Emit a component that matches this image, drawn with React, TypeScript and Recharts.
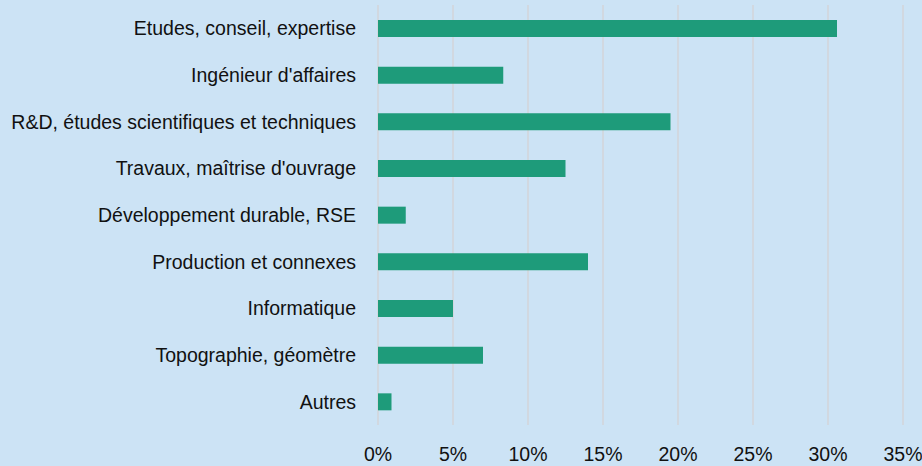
import { BarChart, Bar, XAxis, YAxis, CartesianGrid } from "recharts"

const categories = [
  "Etudes, conseil, expertise",
  "Ingénieur d'affaires",
  "R&D, études scientifiques et techniques",
  "Travaux, maîtrise d'ouvrage",
  "Développement durable, RSE",
  "Production et connexes",
  "Informatique",
  "Topographie, géomètre",
  "Autres",
]

const shares = [30.6, 8.35, 19.5, 12.5, 1.85, 14.0, 5.0, 7.0, 0.9]

const xTicks = [0, 5, 10, 15, 20, 25, 30, 35]

const data = categories.map((name, i) => ({ name, value: shares[i] }))

const font = "'Liberation Sans', Arial, sans-serif"

export default function App() {
  return (
    <div style={{ position: "absolute", left: 0, top: 0, width: 922, height: 466, background: "#cce3f5" }}>
      <BarChart
        width={922}
        height={466}
        data={data}
        layout="vertical"
        margin={{ top: 5, right: 19, bottom: 0, left: 0 }}
      >
        <CartesianGrid horizontal={false} stroke="#d3d5d8" strokeWidth={1.5} />
        <XAxis
          type="number"
          domain={[0, 35]}
          ticks={xTicks}
          interval={0}
          tickFormatter={(v: number) => `${v}%`}
          axisLine={false}
          tickLine={false}
          tickSize={0}
          tickMargin={22}
          height={41}
          tick={{ fill: "#111", fontSize: 19.5, fontFamily: font }}
        />
        <YAxis
          type="category"
          dataKey="name"
          width={378}
          axisLine={false}
          tickLine={false}
          tickSize={0}
          tickMargin={22}
          interval={0}
          tick={{ fill: "#111", fontSize: 19.5, fontFamily: font }}
        />
        <Bar dataKey="value" fill="#1e9b7a" barSize={17} isAnimationActive={false} />
      </BarChart>
    </div>
  )
}
